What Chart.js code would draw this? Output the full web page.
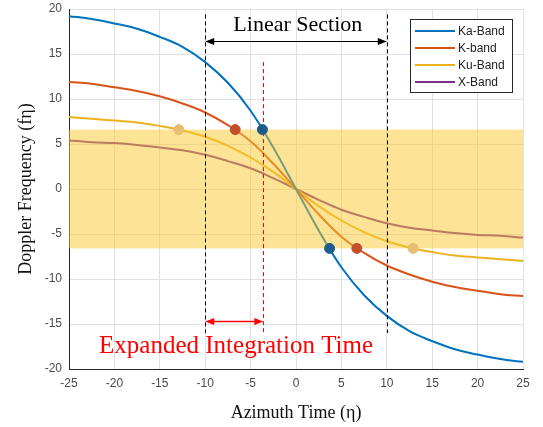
<!DOCTYPE html>
<html>
<head>
<meta charset="utf-8">
<script src="https://cdn.jsdelivr.net/npm/chart.js@4"></script>
<style>
  body { margin: 0; background: #fff; }
  #wrap { width: 543px; height: 427px; }
</style>
</head>
<body>
<div id="wrap"><canvas id="grafico" width="543" height="427"></canvas></div>
<script>
// azimuth time samples and doppler values
const times = [-25, -22.5, -20, -17.5, -15, -12.5, -10, -7.5, -5, -2.5, 0, 2.5, 5, 7.5, 10, 12.5, 15, 17.5, 20, 22.5, 25];
const kaBand = [19.2, 18.9, 18.4, 17.8, 16.9, 15.8, 14.1, 11.8, 8.7, 4.6, 0, -4.6, -8.7, -11.8, -14.1, -15.8, -16.9, -17.8, -18.4, -18.9, -19.2];
const kBand  = [11.9, 11.7, 11.3, 10.9, 10.3, 9.5, 8.5, 7.1, 5.3, 2.8, 0, -2.8, -5.3, -7.1, -8.5, -9.5, -10.3, -10.9, -11.3, -11.7, -11.9];
const kuBand = [8.0, 7.8, 7.6, 7.4, 7.0, 6.5, 5.8, 4.8, 3.5, 1.9, 0, -1.9, -3.5, -4.8, -5.8, -6.5, -7.0, -7.4, -7.6, -7.8, -8.0];
const xBand  = [5.4, 5.2, 5.1, 4.9, 4.6, 4.3, 3.8, 3.1, 2.3, 1.2, 0, -1.2, -2.3, -3.1, -3.8, -4.3, -4.6, -4.9, -5.1, -5.2, -5.4];

const seriesNames = ["Ka-Band", "K-band", "Ku-Band", "X-Band"];
const seriesColors = ["#0072BD", "#D95319", "#EDB120", "#7E2F8E"];

// points where each curve leaves the shaded band
const dotTimes  = [-3.7, 3.7, -6.7, 6.7, -12.9, 12.9];
const dotValues = [6.6, -6.6, 6.6, -6.6, 6.6, -6.6];
const dotColors = ["#1d5c8c", "#1d5c8c", "#c1502a", "#c1502a", "#e9bd72", "#e9bd72"];

const bandLimits = [-6.6, 6.6];
const linearEdges = [-10, 10];      // black dashed lines
const expandedEdge = -3.6;          // red dashed line

const toPoints = (xs, ys) => xs.map((t, i) => ({ x: t, y: ys[i] }));
const serif = "'Liberation Serif', 'Times New Roman', serif";
const sans = "'Liberation Sans', Arial, sans-serif";

function arrow(ctx, x1, x2, yy, color, w) {
  ctx.strokeStyle = color;
  ctx.fillStyle = color;
  ctx.lineWidth = w;
  ctx.setLineDash([]);
  ctx.beginPath();
  ctx.moveTo(x1 + 5, yy);
  ctx.lineTo(x2 - 5, yy);
  ctx.stroke();
  ctx.beginPath();
  ctx.moveTo(x1, yy); ctx.lineTo(x1 + 9, yy - 3.5); ctx.lineTo(x1 + 9, yy + 3.5); ctx.closePath();
  ctx.fill();
  ctx.beginPath();
  ctx.moveTo(x2, yy); ctx.lineTo(x2 - 9, yy - 3.5); ctx.lineTo(x2 - 9, yy + 3.5); ctx.closePath();
  ctx.fill();
}

function vDash(ctx, px, y1, y2, color) {
  ctx.strokeStyle = color;
  ctx.lineWidth = 1;
  ctx.setLineDash([4, 3]);
  ctx.beginPath();
  ctx.moveTo(px, y1);
  ctx.lineTo(px, y2);
  ctx.stroke();
  ctx.setLineDash([]);
}

const overlay = {
  id: "overlay",
  afterDatasetDraw(chart, args) {
    if (args.index !== 0) return;   // Ka-Band is the last line drawn
    const { ctx, chartArea: a, scales: { x, y } } = chart;
    ctx.save();
    const top = y.getPixelForValue(bandLimits[1]);
    const bot = y.getPixelForValue(bandLimits[0]);
    ctx.fillStyle = "rgba(250, 200, 45, 0.5)";
    ctx.fillRect(a.left, top, a.right - a.left, bot - top);

    linearEdges.forEach(v => {
      const px = Math.round(x.getPixelForValue(v)) + 0.5;
      vDash(ctx, px, y.getPixelForValue(19.4), y.getPixelForValue(-16), "#000");
    });
    const rx = Math.round(x.getPixelForValue(expandedEdge)) + 0.5;
    vDash(ctx, rx, y.getPixelForValue(14.1), y.getPixelForValue(-16), "#ff0000");

    arrow(ctx, x.getPixelForValue(linearEdges[0]), x.getPixelForValue(linearEdges[1]), Math.round(y.getPixelForValue(16.5)) + 0.5, "#000", 1);
    arrow(ctx, x.getPixelForValue(linearEdges[0]), x.getPixelForValue(expandedEdge), Math.round(y.getPixelForValue(-14.7)) + 0.5, "#ff0000", 1.3);

    ctx.textAlign = "center";
    ctx.textBaseline = "middle";
    ctx.fillStyle = "#000";
    ctx.font = "22px " + serif;
    ctx.fillText("Linear Section", x.getPixelForValue(0.2), y.getPixelForValue(18.2));
    ctx.fillStyle = "#ff0000";
    ctx.font = "25px " + serif;
    ctx.fillText("Expanded Integration Time", x.getPixelForValue(-6.6), y.getPixelForValue(-17.5));
    ctx.restore();
  },
  afterDraw(chart) {
    const { ctx, chartArea: a } = chart;
    const bx = a.right - 113, by = a.top + 10, bw = 102, bh = 73;
    ctx.save();
    ctx.fillStyle = "#fff";
    ctx.fillRect(bx, by, bw, bh);
    ctx.strokeStyle = "#262626";
    ctx.lineWidth = 1;
    ctx.strokeRect(bx + 0.5, by + 0.5, bw, bh);
    ctx.font = "12px " + sans;
    ctx.textBaseline = "middle";
    ctx.textAlign = "left";
    seriesNames.forEach((name, i) => {
      const ry = by + 12 + i * 17;
      ctx.strokeStyle = seriesColors[i];
      ctx.lineWidth = 2;
      ctx.beginPath();
      ctx.moveTo(bx + 5, ry);
      ctx.lineTo(bx + 45, ry);
      ctx.stroke();
      ctx.fillStyle = "#222";
      ctx.fillText(name, bx + 48, ry + 1);
    });
    ctx.restore();
  }
};

const lineData = [kaBand, kBand, kuBand, xBand];
const datasets = lineData.map((vals, i) => ({
  label: seriesNames[i],
  data: toPoints(times, vals),
  borderColor: seriesColors[i],
  borderWidth: 2,
  pointRadius: 0,
  tension: 0.4,
  fill: false,
  order: 2
}));
datasets.push({
  label: "points",
  data: toPoints(dotTimes, dotValues),
  showLine: false,
  pointRadius: 5,
  pointBackgroundColor: dotColors,
  pointBorderColor: dotColors,
  order: 1
});

const ctx = document.getElementById("grafico").getContext("2d");
new Chart(ctx, {
  type: "line",
  data: { datasets: datasets },
  options: {
    responsive: false,
    animation: false,
    layout: { padding: { left: 0, right: 20, top: 9, bottom: 0 } },
    plugins: { legend: { display: false }, tooltip: { enabled: false } },
    scales: {
      x: {
        type: "linear",
        min: -25,
        max: 25,
        ticks: { stepSize: 5, padding: 7, color: "#4a4a4a", font: { family: sans, size: 12 } },
        grid: { color: "#e1e1e1", drawTicks: false },
        border: { color: "#262626" },
        title: { display: true, text: "Azimuth Time (η)", color: "#111", font: { family: serif, size: 18 }, padding: { top: 0, bottom: 3 } },
        afterFit(scale) { scale.height = 58; scale.paddingLeft = 0; scale.paddingRight = 0; }
      },
      y: {
        min: -20,
        max: 20,
        ticks: { stepSize: 5, padding: 7, color: "#4a4a4a", font: { family: sans, size: 12 } },
        grid: { color: "#e1e1e1", drawTicks: false },
        border: { color: "#262626" },
        title: { display: true, text: "Doppler Frequency (fη)", color: "#111", font: { family: serif, size: 18 }, padding: { top: 15, bottom: 0 } },
        afterFit(scale) { scale.width = 69; scale.paddingTop = 0; scale.paddingBottom = 0; }
      }
    }
  },
  plugins: [overlay]
});
</script>
</body>
</html>
